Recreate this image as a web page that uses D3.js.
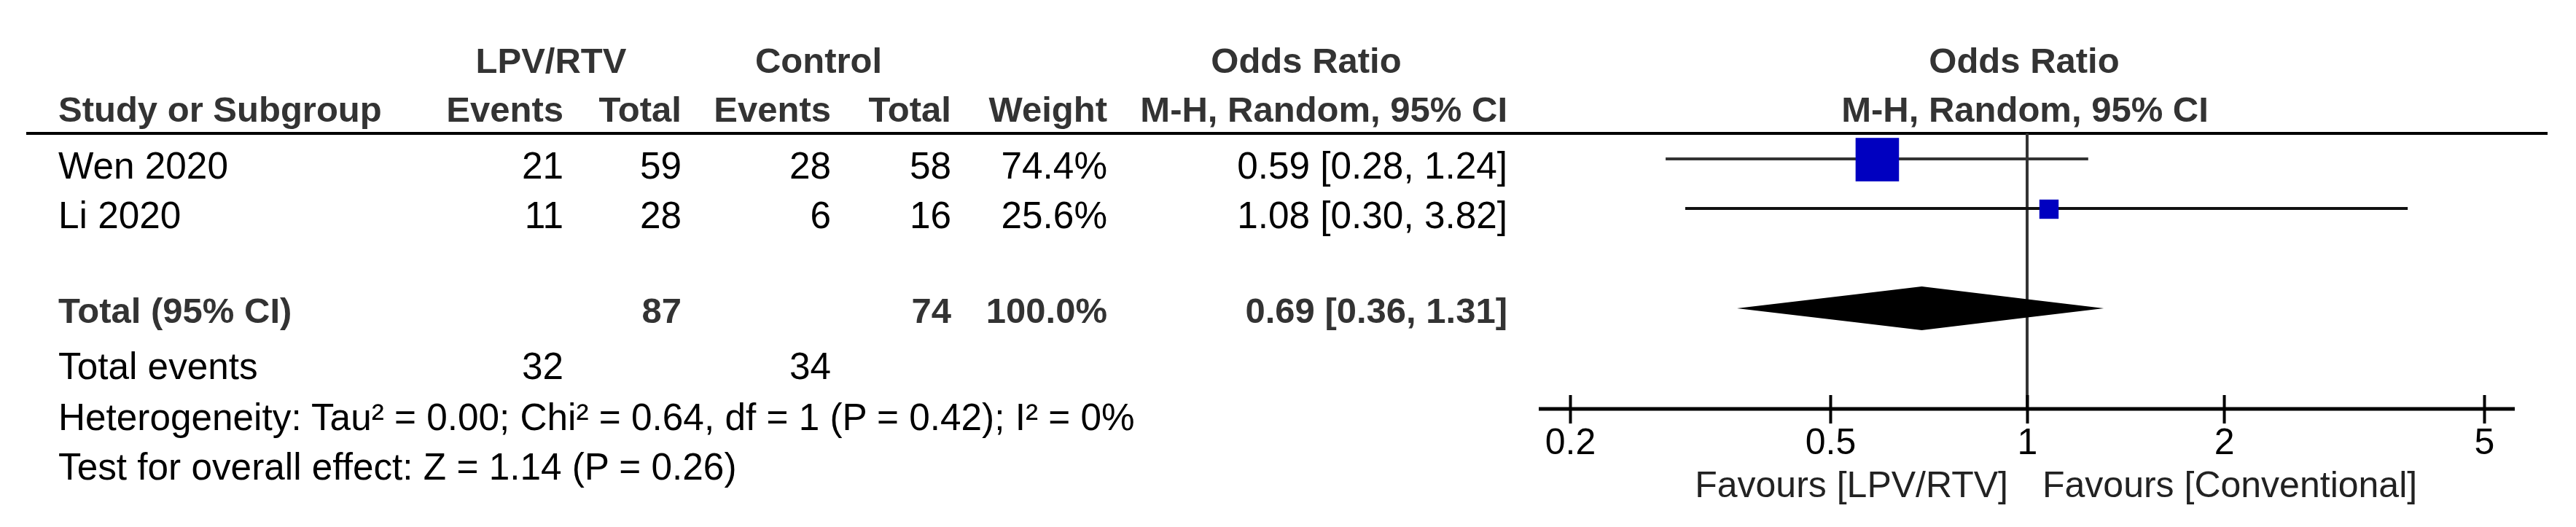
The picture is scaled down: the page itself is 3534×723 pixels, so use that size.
<!DOCTYPE html>
<html>
<head>
<meta charset="utf-8">
<script src="https://cdn.jsdelivr.net/npm/d3@7"></script>
<style>
  html, body { margin: 0; padding: 0; background: #fff; }
  svg { display: block; }
  text { font-family: "Liberation Sans", Arial, sans-serif; font-size: 51.3px; }
  text.b { font-size: 49px; font-weight: bold; }
</style>
</head>
<body>
<svg id="chart" width="3534" height="723"></svg>
<script>
// ---------- data ----------
const studies = ["Wen 2020", "Li 2020"];
const expEvents = [21, 11];
const expTotal = [59, 28];
const ctrlEvents = [28, 6];
const ctrlTotal = [58, 16];
const weights = [74.4, 25.6];
const orEst = [0.59, 1.08];
const orLow = [0.28, 0.30];
const orHigh = [1.24, 3.82];
const pooled = [0.69, 0.36, 1.31];          // estimate, lower, upper
const totalN = [87, 74];                      // LPV/RTV total, control total
const totalEvents = [32, 34];
const totalWeight = "100.0%";
const heterogeneityText = "Heterogeneity: Tau\u00B2 = 0.00; Chi\u00B2 = 0.64, df = 1 (P = 0.42); I\u00B2 = 0%";
const overallText = "Test for overall effect: Z = 1.14 (P = 0.26)";
const axisTicks = [0.2, 0.5, 1, 2, 5];
const favourLabels = ["Favours [LPV/RTV]", "Favours [Conventional]"];

// ---------- layout ----------
const svg = d3.select("#chart");
const hdr = "#333";
const fmt2 = d3.format(".2f");
const ciText = (e, l, h) => `${fmt2(e)} [${fmt2(l)}, ${fmt2(h)}]`;

const col = { study: 80, expEv: 773, expTot: 935, ctlEv: 1140, ctlTot: 1305, weight: 1519, or: 2068 };
const base = { h1: 100, h2: 167, total: 443, events: 520, het: 590, test: 658 };
const lineY = 183;

const x = d3.scaleLog().domain([0.2, 5]).range([2154, 3408]);
const yStudy = d3.scaleLinear().domain([0, 1]).range([218, 286]);
const boxSize = d3.scaleLinear().domain([0, 100]).range([9, 77]);
const axisY = 561;
const diamondY = 423;

function txt(xp, yp, s, anchor, bold, color) {
  return svg.append("text")
    .attr("class", bold ? "b" : null)
    .attr("x", xp).attr("y", yp)
    .attr("text-anchor", anchor || "start")
    .attr("fill", color || "#000")
    .text(s);
}

// ---------- headers ----------
txt(756, base.h1, "LPV/RTV", "middle", true, hdr);
txt(1123, base.h1, "Control", "middle", true, hdr);
txt(1792, base.h1, "Odds Ratio", "middle", true, hdr);
txt(x(1) - 4, base.h1, "Odds Ratio", "middle", true, hdr);

txt(col.study, base.h2, "Study or Subgroup", "start", true, hdr);
txt(col.expEv, base.h2, "Events", "end", true, hdr);
txt(col.expTot, base.h2, "Total", "end", true, hdr);
txt(col.ctlEv, base.h2, "Events", "end", true, hdr);
txt(col.ctlTot, base.h2, "Total", "end", true, hdr);
txt(col.weight, base.h2, "Weight", "end", true, hdr);
txt(col.or, base.h2, "M-H, Random, 95% CI", "end", true, hdr);
txt(x(1) - 3, base.h2, "M-H, Random, 95% CI", "middle", true, hdr);

svg.append("line")
  .attr("x1", 36).attr("x2", 3495)
  .attr("y1", lineY).attr("y2", lineY)
  .attr("stroke", "#000").attr("stroke-width", 4);

// ---------- study rows ----------
studies.forEach((s, i) => {
  const yb = yStudy(i) + 27;
  txt(col.study, yb, s);
  txt(col.expEv, yb, expEvents[i], "end");
  txt(col.expTot, yb, expTotal[i], "end");
  txt(col.ctlEv, yb, ctrlEvents[i], "end");
  txt(col.ctlTot, yb, ctrlTotal[i], "end");
  txt(col.weight, yb, weights[i].toFixed(1) + "%", "end");
  txt(col.or, yb, ciText(orEst[i], orLow[i], orHigh[i]), "end");
});

// ---------- total rows ----------
txt(col.study, base.total, "Total (95% CI)", "start", true, hdr);
txt(col.expTot, base.total, totalN[0], "end", true, hdr);
txt(col.ctlTot, base.total, totalN[1], "end", true, hdr);
txt(col.weight, base.total, totalWeight, "end", true, hdr);
txt(col.or, base.total, ciText(pooled[0], pooled[1], pooled[2]), "end", true, hdr);

txt(col.study, base.events, "Total events");
txt(col.expEv, base.events, totalEvents[0], "end");
txt(col.ctlEv, base.events, totalEvents[1], "end");
txt(col.study, base.het, heterogeneityText);
txt(col.study, base.test, overallText);

// ---------- forest plot ----------
// reference line at OR = 1
svg.append("line")
  .attr("x1", x(1)).attr("x2", x(1))
  .attr("y1", lineY).attr("y2", axisY)
  .attr("stroke", "#333").attr("stroke-width", 4);

// CI lines
svg.selectAll("line.ci").data(studies).enter().append("line")
  .attr("class", "ci")
  .attr("x1", (d, i) => x(orLow[i])).attr("x2", (d, i) => x(orHigh[i]))
  .attr("y1", (d, i) => yStudy(i)).attr("y2", (d, i) => yStudy(i))
  .attr("stroke", (d, i) => i === 0 ? "#333" : "#111")
  .attr("stroke-width", 4);

// boxes
svg.selectAll("rect.box").data(studies).enter().append("rect")
  .attr("class", "box")
  .attr("x", (d, i) => x(orEst[i]) - boxSize(weights[i]) / 2)
  .attr("y", (d, i) => yStudy(i) - boxSize(weights[i]) / 2 + 1)
  .attr("width", (d, i) => boxSize(weights[i]))
  .attr("height", (d, i) => boxSize(weights[i]))
  .attr("fill", "#0000C0");

// diamond
const dh = 30;
svg.append("path")
  .attr("d", `M${x(pooled[1])},${diamondY} L${x(pooled[0])},${diamondY - dh} L${x(pooled[2])},${diamondY} L${x(pooled[0])},${diamondY + dh} Z`)
  .attr("fill", "#000");

// axis
const axis = d3.axisBottom(x)
  .tickValues(axisTicks)
  .tickFormat(d3.format("~g"))
  .tickSize(0)
  .tickPadding(0);
const gAxis = svg.append("g").attr("transform", `translate(0,${axisY})`).call(axis);
gAxis.select(".domain").remove();
gAxis.append("line")
  .attr("x1", x.range()[0] - 43).attr("x2", x.range()[1] + 42)
  .attr("y1", 0).attr("y2", 0)
  .attr("stroke", "#000").attr("stroke-width", 5);
gAxis.selectAll(".tick line")
  .attr("y1", -19).attr("y2", 20)
  .attr("stroke", "#000").attr("stroke-width", 4);
gAxis.selectAll(".tick text")
  .attr("y", 62).attr("dy", 0)
  .attr("fill", "#000")
  .style("font-family", '"Liberation Sans", Arial, sans-serif')
  .style("font-size", "50px");

// favours labels
txt(x(1) - 26, 682, favourLabels[0], "end", false, "#222").style("font-size", "50px");
txt(x(1) + 21, 682, favourLabels[1], "start", false, "#222").style("font-size", "50px");
</script>
</body>
</html>
